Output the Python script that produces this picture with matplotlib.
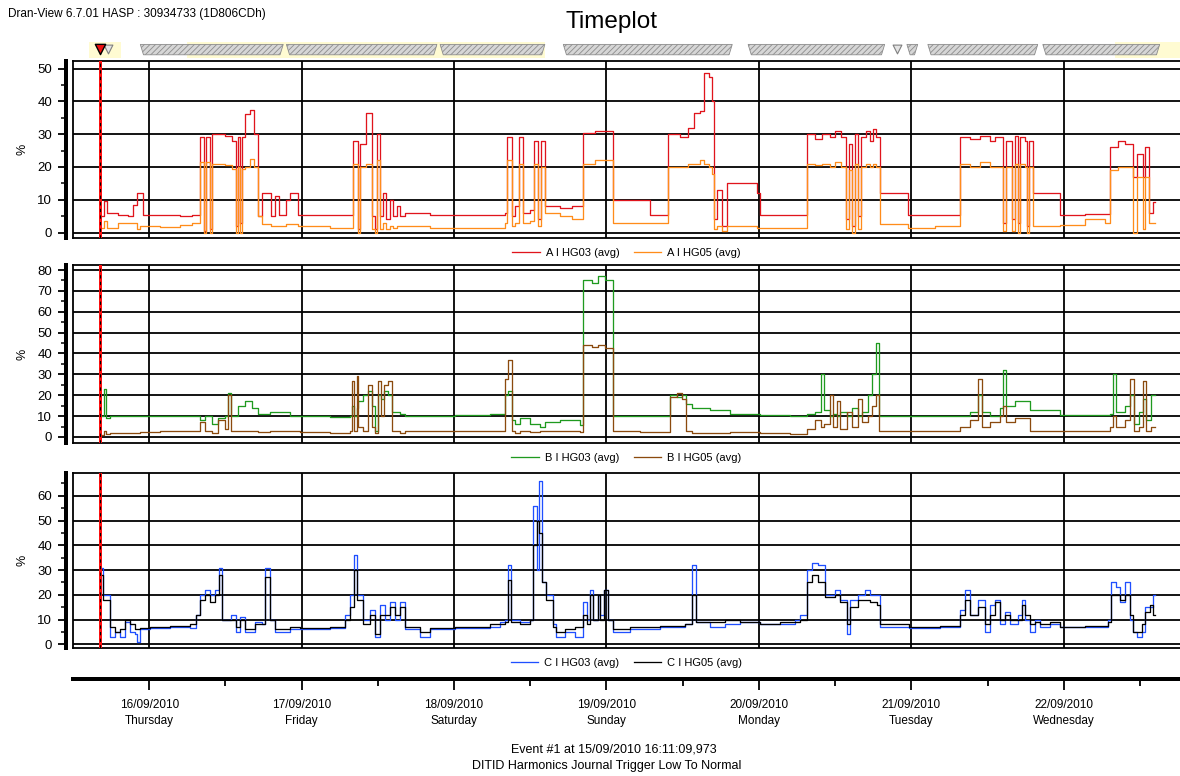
import numpy as np
import matplotlib
matplotlib.use("Agg")
import matplotlib.pyplot as plt
from matplotlib.patches import Polygon
from matplotlib.ticker import MultipleLocator, FixedLocator

plt.rcParams['font.family'] = ['Liberation Sans', 'DejaVu Sans']
plt.rcParams['hatch.linewidth'] = 0.6

# ---------------------------------------------------------------------------
# Data: hours since 15/09/2010 00:00, step values in %
# ---------------------------------------------------------------------------
A_hours = [16.3, 16.9, 17.4, 19.1, 20.7, 21.5, 22.1, 22.6, 23.1, 25.7,
           28.9, 30.8, 32.0, 32.7, 33.0, 33.6, 33.9, 36.0, 37.1, 37.7,
           38.0, 38.3, 38.6, 39.1, 39.9, 40.5, 41.2, 41.8, 43.2, 43.8,
           44.5, 45.6, 46.2, 47.5, 52.5, 56.1, 56.9, 57.2, 58.2, 59.1,
           59.6, 59.9, 60.4, 60.8, 61.3, 61.9, 62.4, 63.0, 63.5, 64.3,
           68.2, 72.2, 80.0, 80.3, 81.1, 81.6, 82.2, 82.9, 84.0, 84.6,
           85.2, 85.7, 86.3, 88.7, 90.6, 92.3, 94.2, 97.0, 102.8, 105.7,
           107.6, 108.8, 109.8, 110.7, 111.3, 112.1, 112.6, 112.9, 113.4, 114.2,
           115.0, 119.7, 120.2, 127.6, 128.8, 129.9, 131.2, 132.0, 132.9, 133.7,
           134.2, 134.6, 135.1, 135.6, 136.1, 136.8, 137.5, 137.9, 138.4, 139.0,
           143.5, 147.7, 151.6, 153.2, 154.8, 156.4, 157.1, 158.4, 158.9, 159.8,
           160.3, 160.8, 161.1, 161.9, 162.2, 162.5, 163.1, 167.4, 171.3, 174.5,
           175.2, 176.5, 177.6, 178.9, 179.5, 180.4, 180.8, 181.4, 182.0, 182.3]
A_hg03 = [5, 9.5, 6, 5.5, 5, 8.5, 12, 12, 5.5, 5.5,
          5.2, 5.3, 29, 0.5, 29, 1, 30, 29.5, 28, 2,
          29, 3, 29, 36, 37.5, 30, 5, 12, 5, 11,
          5.5, 10, 12, 5.5, 5.5, 28, 1, 27, 36.5, 5,
          1, 30, 5, 12, 4, 10, 5, 8, 5, 6,
          5.5, 5.5, 6, 29, 5, 8, 29, 6, 7, 28,
          4, 28, 8, 7.5, 8, 30.5, 31, 10, 5.5, 30,
          29, 32, 36.5, 37, 48.5, 47.5, 40, 4, 13, 2,
          15, 12, 5.5, 30, 28.5, 30, 29, 31, 29, 4,
          27, 2, 30, 5, 29, 31, 28, 31.5, 29, 12,
          5.5, 5.5, 29, 28.5, 29.5, 28, 29, 3, 28, 4,
          29.5, 3, 29, 28, 2, 28, 12, 5.5, 5.7, 5.7,
          26, 28, 27, 17, 24, 17, 26, 6, 9.3, 9.3]
A_hg05 = [1.5, 3.5, 1.5, 2.8, 2.8, 2.8, 1, 2, 2, 1.6,
          2.2, 3, 21.5, 0, 21.5, 0, 21, 20.5, 19.5, 0,
          20, 0, 19.5, 20, 22.5, 20, 5, 2.5, 2, 2,
          2, 2.5, 2.5, 2, 1.5, 21, 0, 20, 21, 1,
          0, 22, 1, 3, 1, 2, 1.5, 2, 2, 2,
          1.5, 1.5, 3, 22, 2, 3, 21, 3, 3.5, 21,
          2, 20, 6, 5, 4, 21, 22, 3, 3, 20,
          20, 21, 21, 22, 21, 20, 18, 1, 2, 0.5,
          2, 1.5, 1.5, 21, 20.5, 21, 20, 21.5, 20, 1,
          19, 0, 21, 1, 20, 21, 20, 21, 20, 2.5,
          1.5, 2, 21, 20, 21.5, 20, 20, 0.5, 20, 0.5,
          21, 0, 21, 20, 0, 20, 2, 2.2, 4, 3,
          19, 20, 20, 0, 17, 1, 17, 3, 3, 3]

B_hours = [16.3, 16.9, 17.2, 17.9, 22.6, 25.7, 30.8, 32.0, 32.8, 33.9,
           34.9, 36.0, 36.4, 36.9, 38.0, 39.1, 40.2, 41.2, 43.0, 46.2,
           47.8, 52.5, 55.6, 56.0, 56.3, 56.7, 56.9, 57.6, 58.5, 59.1,
           59.6, 60.1, 60.5, 61.0, 61.6, 62.2, 63.5, 64.3, 72.2, 77.7,
           80.0, 80.5, 81.1, 81.6, 82.4, 84.0, 85.6, 86.3, 88.7, 91.8,
           92.3, 93.7, 94.6, 95.7, 97.0, 101.3, 105.2, 106.0, 107.1, 107.9,
           108.5, 109.5, 112.3, 115.4, 120.2, 124.9, 127.6, 128.9, 129.7, 130.2,
           131.2, 131.7, 132.3, 132.8, 133.9, 134.6, 135.6, 136.3, 137.2, 137.8,
           138.4, 138.9, 142.2, 148.5, 151.6, 153.2, 154.5, 155.1, 156.4, 157.9,
           158.4, 158.9, 160.3, 162.7, 167.4, 175.2, 175.7, 176.2, 177.6, 178.4,
           179.0, 179.9, 180.4, 181.0, 181.8, 182.3]
B_hg03 = [10, 23, 9, 10, 10, 10, 10, 8, 10, 6,
          9, 10, 21, 10, 15, 17, 14, 11, 12, 10,
          10, 9.5, 10, 15, 10, 14, 17, 20, 22, 15,
          3, 20, 18, 22, 20, 12, 11, 10, 10.5, 11,
          20, 22, 8, 6, 9, 6, 5, 7, 8, 5.5,
          75, 74, 77, 75, 10, 10, 10, 20, 19, 20,
          16, 14, 13, 11, 10.5, 10, 11, 12, 30, 13,
          10, 11, 10, 12, 10, 14, 10, 12, 20, 30,
          45, 10, 10, 10, 10, 12, 20, 12, 10, 14,
          32, 15, 17, 13, 10.5, 11, 30, 12, 15, 20,
          6, 12, 18, 8, 20, 20]
B_hg05 = [1, 3, 1.5, 2, 2.5, 3, 3, 7, 3, 2,
          8, 4, 20, 3, 3, 3, 3, 2.5, 3, 3,
          2.5, 2, 3, 27, 3, 29, 5, 3, 25, 5,
          2, 27, 10, 25, 27, 3, 2, 3, 3, 3,
          28, 37, 3, 2, 3, 2.5, 3, 3, 3, 2.5,
          44, 43, 44, 42.5, 3, 2.5, 2.5, 19, 21, 18,
          3, 2, 2, 2.5, 2, 1.5, 4, 8, 5, 6,
          20, 5, 17, 4, 12, 5, 18, 7, 10, 15,
          20, 3, 3, 3, 5, 8, 28, 5, 7, 10,
          15, 7, 9, 3, 3, 5, 10, 5, 8, 28,
          3, 5, 27, 3, 5, 5]

C_hours = [16.3, 16.7, 17.6, 17.9, 18.6, 19.4, 20.2, 21.0, 21.8, 22.1,
           22.6, 24.2, 27.3, 30.5, 31.4, 32.0, 32.8, 33.6, 34.4, 35.0,
           35.5, 36.8, 37.6, 38.3, 39.1, 40.7, 41.8, 42.2, 43.0, 43.8,
           46.2, 47.8, 52.5, 54.9, 55.6, 56.2, 56.7, 57.6, 58.8, 59.6,
           60.4, 61.1, 61.9, 62.7, 63.5, 64.3, 66.6, 68.2, 72.2, 77.7,
           79.2, 80.0, 80.5, 81.0, 82.4, 84.0, 84.5, 85.0, 85.4, 85.9,
           86.5, 87.5, 88.1, 89.5, 91.1, 92.3, 93.0, 93.4, 93.9, 94.6,
           95.0, 95.6, 96.3, 97.0, 99.7, 104.4, 108.3, 109.5, 110.1, 112.3,
           114.6, 117.0, 120.2, 123.3, 125.7, 126.5, 127.6, 128.4, 129.3, 130.4,
           132.0, 132.8, 133.9, 134.4, 135.6, 136.7, 137.5, 138.6, 139.0, 143.7,
           148.5, 151.6, 152.4, 153.2, 154.5, 155.6, 156.4, 157.1, 157.9, 158.7,
           159.5, 160.8, 161.4, 161.9, 162.7, 163.4, 164.2, 165.8, 167.4, 171.3,
           174.9, 175.5, 176.2, 176.8, 177.6, 178.4, 178.9, 179.5, 180.3, 180.8,
           181.6, 182.0, 182.3]
C_hg03 = [31, 20, 20, 3, 5, 3, 9, 5, 4, 1,
          6, 6.5, 7, 6.5, 12, 20, 22, 20, 22, 31,
          10, 12, 5, 11, 5, 9, 8, 31, 10, 5,
          6, 6, 6.5, 12, 20, 36, 20, 10, 14, 3,
          16, 10, 17, 10, 17, 6, 3, 6, 6.5, 7,
          9, 10, 32, 10, 9, 10, 56, 30, 66, 25,
          20, 8, 3, 5, 3, 17, 10, 22, 10, 20,
          12, 22, 10, 5, 6, 7, 8, 32, 9, 7,
          8, 9, 8, 8, 10, 12, 30, 33, 32, 20,
          22, 18, 4, 18, 20, 22, 20, 20, 7, 6.5,
          7, 14, 22, 12, 18, 5, 16, 18, 8, 13,
          8, 12, 18, 10, 5, 10, 7, 8, 7, 7,
          10, 25, 23, 17, 25, 10, 5, 3, 5, 15,
          15, 20, 20]
C_hg05 = [28, 18, 18, 7, 5, 6, 10, 8, 6, 6,
          6.5, 7, 7.5, 8, 12, 18, 20, 17, 20, 28,
          10, 10, 7, 10, 6, 8, 8, 27, 10, 6,
          7, 6.5, 7, 10, 15, 30, 18, 8, 12, 4,
          12, 12, 15, 12, 15, 7, 5, 6.5, 7, 8,
          8, 9, 26, 9, 8, 10, 40, 50, 45, 25,
          18, 7, 5, 6, 7, 12, 8, 20, 10, 20,
          10, 22, 10, 6, 7, 7.5, 8, 20, 9, 9,
          10, 9, 8, 9, 9, 10, 25, 28, 25, 19,
          20, 17, 8, 15, 18, 18, 17, 16, 8, 7,
          7.5, 12, 18, 12, 15, 8, 12, 17, 10, 12,
          10, 10, 16, 12, 8, 9, 8, 9, 7, 7.5,
          9, 20, 20, 18, 20, 12, 5, 5, 8, 13,
          16, 12, 12]

# Journal events (hours): bursts of triggers and isolated triggers
EVENT_HOUR = 16 + 11 / 60 + 9.973 / 3600
EVENT_BURSTS = [(22.6, 45.1), (45.6, 69.3), (69.8, 86.3), (89.2, 115.8),
                (118.3, 139.8), (143.3, 145.0), (146.6, 163.9), (164.7, 183.1)]
EVENT_SINGLES = [17.5, 141.7]

DAY_HOURS = [24, 48, 72, 96, 120, 144, 168]
NOON_HOURS = [36, 60, 84, 108, 132, 156, 180]
DAY_LABELS = ["16/09/2010\nThursday", "17/09/2010\nFriday", "18/09/2010\nSaturday",
              "19/09/2010\nSunday", "20/09/2010\nMonday", "21/09/2010\nTuesday",
              "22/09/2010\nWednesday"]
X_START, X_END = 12.0, 186.3

# ---------------------------------------------------------------------------
W, H = 1180, 776
DPI = 100
fig = plt.figure(figsize=(W / DPI, H / DPI), dpi=DPI)
PX = 72 / DPI  # one pixel in points


def box(l, t, r, b):
    return [l / W, 1 - b / H, (r - l) / W, (b - t) / H]


def panel(rect, ylim, ytop, hours, s1, s2, c1, c2, names, leg_y):
    ax = fig.add_axes(rect)
    ax.set_xlim(X_START, X_END)
    ax.set_ylim(*ylim)
    ax.step(hours, s1, where='post', color=c1, lw=1.3 * PX, label=names[0], zorder=3)
    ax.step(hours, s2, where='post', color=c2, lw=1.3 * PX, label=names[1], zorder=4)
    ax.set_yticks(np.arange(0, ytop + 1, 10))
    ax.yaxis.set_minor_locator(MultipleLocator(5))
    ax.set_xticks(DAY_HOURS)
    ax.grid(True, which='major', color='black', lw=1.8 * PX, zorder=1)
    ax.set_axisbelow(True)
    ax.tick_params(axis='x', which='both', length=0, labelbottom=False)
    ax.tick_params(axis='y', which='major', length=8 * PX, width=1.8 * PX,
                   direction='out', labelsize=9.5, pad=6 * PX, colors='black')
    ax.tick_params(axis='y', which='minor', length=5 * PX, width=1.5 * PX,
                   direction='out')
    ax.spines['right'].set_visible(False)
    ax.spines['left'].set_position(('outward', 7 * PX))
    ax.spines['left'].set_linewidth(4 * PX)
    ax.spines['top'].set_linewidth(1.8 * PX)
    ax.spines['bottom'].set_linewidth(1.8 * PX)
    ax.plot([0, 0], [0, 1], transform=ax.transAxes, color='black', lw=1.8 * PX,
            clip_on=False, zorder=6)
    ax.axvline(EVENT_HOUR, color='#ff1010', lw=3 * PX, zorder=7)
    ax.axvline(EVENT_HOUR, color='black', lw=1.1 * PX, dashes=(3, 3), zorder=8)
    ax.legend(loc='center', bbox_to_anchor=(0.5, leg_y), ncol=2, frameon=False,
              fontsize=8, handlelength=2.5, handletextpad=0.55, columnspacing=1.25)
    y_mid = rect[1] + rect[3] / 2
    fig.text(22 / W, y_mid, '%', rotation=90, ha='center', va='center', fontsize=9)
    return ax


axA = panel(box(73, 61, 1180, 238), (-1.65, 52.3), 50, A_hours, A_hg03, A_hg05,
            '#e0141c', '#ff8c1a', ['A I HG03 (avg)', 'A I HG05 (avg)'], -0.085)
axB = panel(box(73, 265, 1180, 443), (-2.9, 82.4), 80, B_hours, B_hg03, B_hg05,
            '#1f9a1f', '#8b4a0e', ['B I HG03 (avg)', 'B I HG05 (avg)'], -0.084)
axC = panel(box(73, 473, 1180, 648), (-1.5, 69.2), 60, C_hours, C_hg03, C_hg05,
            '#1f4fff', '#000000', ['C I HG03 (avg)', 'C I HG05 (avg)'], -0.086)

# Time axis
axX = fig.add_axes(box(73, 660, 1180, 679))
axX.set_xlim(X_START, X_END)
axX.set_ylim(0, 1)
axX.patch.set_visible(False)
for s in ('top', 'right', 'left'):
    axX.spines[s].set_visible(False)
axX.spines['bottom'].set_linewidth(4 * PX)
axX.set_yticks([])
axX.set_xticks(DAY_HOURS)
axX.set_xticklabels(DAY_LABELS, linespacing=1.45)
axX.xaxis.set_minor_locator(FixedLocator(NOON_HOURS))
axX.tick_params(axis='x', which='major', length=11 * PX, width=1.8 * PX,
                labelsize=8.5, pad=9 * PX)
axX.tick_params(axis='x', which='minor', length=7 * PX, width=1.8 * PX)

# Event strip above the first panel
axS = fig.add_axes(box(73, 42, 1180, 58))
axS.set_xlim(X_START, X_END)
axS.set_ylim(0, 1)
axS.axis('off')
for a, b in [(14.5, 19.5), (30, 86.3), (176, 187)]:
    axS.axvspan(a, b, color='#fffbd2', lw=0, zorder=0)
for a, b in EVENT_BURSTS:
    axS.add_patch(Polygon([(a, 0.85), (b, 0.85), (b - 0.5, 0.2), (a + 0.5, 0.2)],
                          closed=True, facecolor='#d6d6d6', edgecolor='#8c8c8c',
                          hatch='//////', lw=0.6, zorder=2))
axS.scatter(EVENT_SINGLES, [0.55] * len(EVENT_SINGLES), marker='v', s=40,
            facecolor='#e4e4e4', edgecolor='#808080', lw=0.8, zorder=3)
axS.scatter([EVENT_HOUR], [0.55], marker='v', s=55, facecolor='#ee1010',
            edgecolor='black', lw=1.0, zorder=4)

# Header, title and footer
fig.text(8 / W, 1 - 14 / H, 'Dran-View 6.7.01 HASP : 30934733 (1D806CDh)',
         ha='left', va='center', fontsize=8.5)
fig.text(611 / W, 1 - 22 / H, 'Timeplot', ha='center', va='center', fontsize=17.5)
fig.text(614 / W, 1 - 749 / H, 'Event #1 at 15/09/2010 16:11:09,973',
         ha='center', va='center', fontsize=9)
fig.text(607 / W, 1 - 766 / H, 'DITID Harmonics Journal Trigger Low To Normal',
         ha='center', va='center', fontsize=9)

fig.savefig('out.png', dpi=DPI)
